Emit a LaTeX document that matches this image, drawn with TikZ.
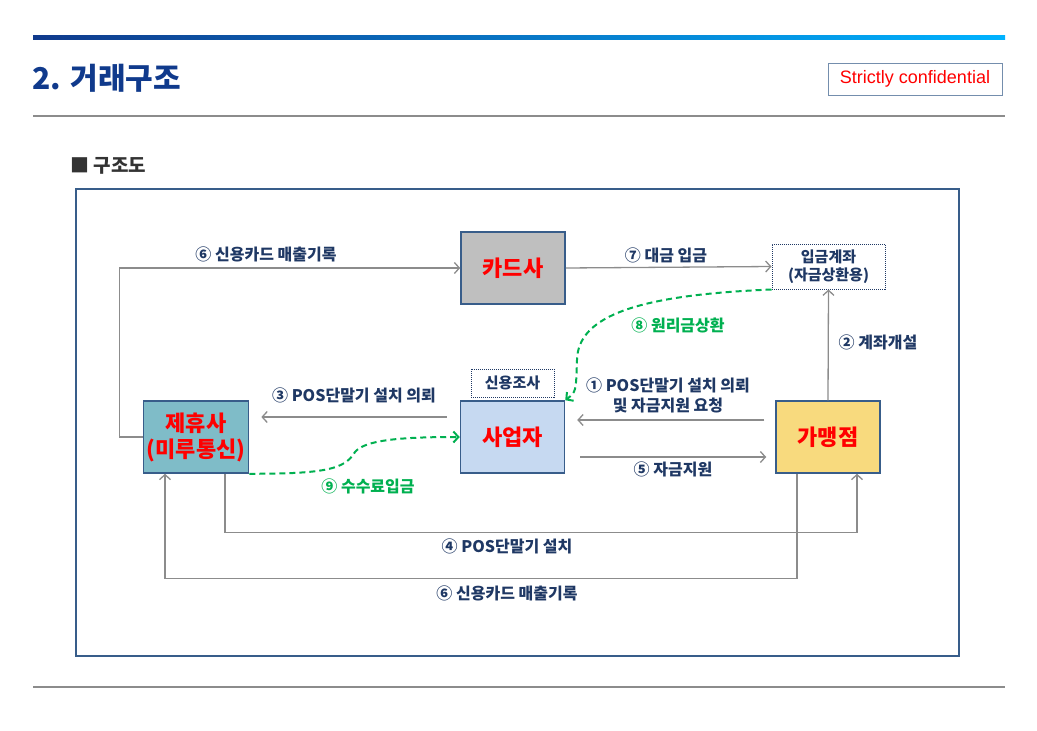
\documentclass[tikz,border=0pt]{standalone}
\usepackage{fontspec}
\setmainfont{Noto Sans CJK KR}
\newfontfamily\arialfont{Liberation Sans}
\usetikzlibrary{arrows.meta, positioning}
\definecolor{navy}{HTML}{1F3864}
\definecolor{titleblue}{HTML}{103A8C}
\definecolor{boxline}{HTML}{385D8A}
\definecolor{linegray}{HTML}{8C8C8C}
\definecolor{paygreen}{HTML}{00B050}
\definecolor{cardfill}{HTML}{BFBFBF}
\definecolor{partnerfill}{HTML}{7FBCC8}
\definecolor{bizfill}{HTML}{C6D9F1}
\definecolor{shopfill}{HTML}{F8DA7E}
\tikzstyle{box}      = [rectangle, draw=boxline, line width=1.5pt, minimum width=104pt,
                        minimum height=72pt, align=center, text=red,
                        font=\fontsize{22}{26}\selectfont\bfseries]
\tikzstyle{memo}     = [rectangle, draw=navy, densely dotted, line width=1pt, align=center,
                        text=navy, font=\fontsize{15}{18}\selectfont\bfseries]
\tikzstyle{flowtext} = [text=navy, align=center, font=\fontsize{16}{20}\selectfont\bfseries]
\tikzstyle{arrow}    = [line width=1.3pt, draw=linegray, -{Straight Barb[length=5pt,width=11pt]}]
\tikzstyle{pay}      = [line width=2pt, draw=paygreen, dash pattern=on 6pt off 4pt,
                        -{Straight Barb[length=5pt,width=11pt]}]

\begin{document}
\begin{tikzpicture}[x=1pt, y=-1pt]
  \useasboundingbox (0,0) rectangle (1037,731);

  % Header
  \shade[left color=titleblue, right color=cyan!70!blue] (33,35) rectangle (1005,39);
  \node[anchor=west, text=titleblue, font=\fontsize{30}{33}\selectfont\bfseries]
        (title) at (29,78) {2. 거래구조};
  \node[draw=boxline!70, line width=1pt, minimum width=174pt, minimum height=32pt,
        text=red, font=\arialfont\fontsize{18}{20}\selectfont]
        (secret) at (915,79) {Strictly confidential};
  \draw[linegray, line width=2pt] (33,116) -- (1005,116);
  \node[anchor=west, text=black!80, font=\fontsize{19}{22}\selectfont\bfseries]
        (section) at (67,166) {■ 구조도};

  % Frame
  \draw[boxline, line width=1.5pt] (76,189) rectangle (959,656);

  % Boxes
  \node[box, fill=cardfill] (card) at (513,268) {카드사};
  \node[memo, minimum width=113pt, minimum height=45pt] (acct) at (828.5,266.5)
        {입금계좌\\(자금상환용)};
  \node[box, fill=partnerfill] (partner) at (196,437) {제휴사\\(미루통신)};
  \node[box, fill=bizfill] (biz) at (512.5,437) {사업자};
  \node[memo, minimum width=83pt, minimum height=28pt] (credit) at (512.5,383) {신용조사};
  \node[box, fill=shopfill] (shop) at (828,437) {가맹점};

  % Gray flows
  \draw[arrow] (partner.west) -- ++(-23,0) |- (card.west);
  \node[flowtext] (t6a) at (266,254) {⑥ 신용카드 매출기록};

  \draw[arrow] (card.east) -- (acct.west);
  \node[flowtext] (t7) at (666,255) {⑦ 대금 입금};

  \draw[arrow] (shop.north) -- (acct.south);
  \node[flowtext] (t2) at (878,342) {② 계좌개설};

  \draw[arrow, shorten <=11pt, shorten >=12pt] ([yshift=17pt]shop.west) -- ([yshift=17pt]biz.east);
  \node[flowtext] (t1) at (668,395) {① POS단말기 설치 의뢰\\및 자금지원 요청};

  \draw[arrow, shorten <=15pt, shorten >=9pt] ([yshift=-20pt]biz.east) -- ([yshift=-20pt]shop.west);
  \node[flowtext] (t5) at (673,469) {⑤ 자금지원};

  \draw[arrow, shorten <=13pt, shorten >=12pt] ([yshift=20pt]biz.west) -- ([yshift=20pt]partner.east);
  \node[flowtext] (t3) at (354,395) {③ POS단말기 설치 의뢰};

  \draw[arrow] ([xshift=29pt]partner.south) -- ++(0,59) -| ([xshift=29pt]shop.south);
  \node[flowtext] (t4) at (507,546) {④ POS단말기 설치};

  \draw[arrow] ([xshift=-31pt]shop.south) -- ++(0,105) -| ([xshift=-31pt]partner.south);
  \node[flowtext] (t6b) at (507,593) {⑥ 신용카드 매출기록};

  % Green flows
  \draw[pay] (acct.south west) .. controls (640,295) and (578,315) .. (577,360)
        .. controls (576,392) .. (biz.north east);
  \node[flowtext, text=paygreen] (t8) at (678,325) {⑧ 원리금상환};

  \draw[pay] (partner.south east) .. controls (330,474) and (345,468) .. (355,452)
        .. controls (365,440) and (400,437) .. (biz.west);
  \node[flowtext, text=paygreen] (t9) at (368,486) {⑨ 수수료입금};

  % Footer
  \draw[linegray, line width=2pt] (33,687) -- (1005,687);
\end{tikzpicture}
\end{document}
